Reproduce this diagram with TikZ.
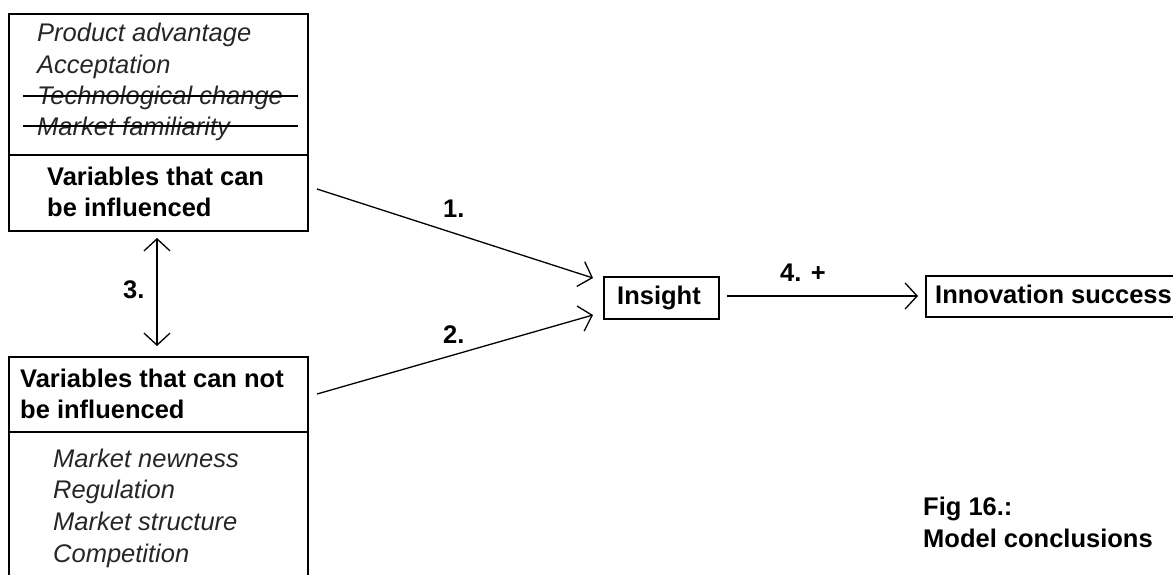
\documentclass[tikz,border=0pt]{standalone}
\usepackage{fontspec}
\setmainfont{Liberation Sans}
\usetikzlibrary{arrows.meta}
\begin{document}
\begin{tikzpicture}[x=1pt,y=-1pt,
  box/.style={draw, line width=1.6pt, inner sep=0pt, anchor=north west},
  lbl/.style={font=\fontsize{25.5}{30}\selectfont\bfseries, inner sep=0pt, anchor=base west},
  itl/.style={font=\fontsize{25.5}{30}\selectfont\itshape, inner sep=0pt, anchor=base west, text=black!85},
  arr/.style={line width=1.3pt, -{Straight Barb[length=12pt,width=26pt,line width=1.3pt]}},
  dbl/.style={line width=1.3pt, {Straight Barb[length=12pt,width=26pt,line width=1.3pt]}-{Straight Barb[length=12pt,width=26pt,line width=1.3pt]}},
  strike/.style={line width=1.3pt},
]
\useasboundingbox (0,0) rectangle (1173,574);
% top box
\node[box, minimum width=299pt, minimum height=217pt] (top) at (8,13) {};
\draw[line width=1.6pt] (8,155) coordinate (tdl) -- (307,155) coordinate (tdr);
\node[itl] (t1) at (37,41) {Product advantage};
\node[itl] (t2) at (37,73) {Acceptation};
\node[itl] (t3) at (37,104) {Technological change};
\node[itl] (t4) at (37,135) {Market familiarity};
\draw[strike] (23,96) coordinate (s1a) -- (298,96) coordinate (s1b);
\draw[strike] (23,126) coordinate (s2a) -- (298,126) coordinate (s2b);
\node[lbl] (tv1) at (47,185) {Variables that can};
\node[lbl] (tv2) at (47,216) {be influenced};
% bottom box
\node[box, minimum width=299pt, minimum height=240pt] (bot) at (8,356) {};
\draw[line width=1.6pt] (8,432) coordinate (bdl) -- (307,432) coordinate (bdr);
\node[lbl] (bv1) at (20,387) {Variables that can not};
\node[lbl] (bv2) at (20,418) {be influenced};
\node[itl] (b1) at (53,467) {Market newness};
\node[itl] (b2) at (53,498) {Regulation};
\node[itl] (b3) at (53,530) {Market structure};
\node[itl] (b4) at (53,562) {Competition};
% insight & success
\node[box, minimum width=115pt, minimum height=42pt] (ins) at (603,276) {};
\node[lbl] (inst) at (617,304) {Insight};
\node[box, minimum width=260pt, minimum height=41pt] (succ) at (925,275) {};
\node[lbl] (succt) at (935,303) {Innovation success};
% arrows
\coordinate (a1s) at (317,189);
\coordinate (a1e) at (593,278);
\coordinate (a2s) at (317,394);
\coordinate (a2e) at (593,315);
\coordinate (a3s) at (157,238);
\coordinate (a3e) at (157,346);
\coordinate (a4s) at (727,296);
\coordinate (a4e) at (918,296);
\draw[arr] (a1s) -- (a1e);
\draw[arr] (a2s) -- (a2e);
\draw[dbl] (a3s) -- (a3e);
\draw[arr] (a4s) -- (a4e);
\node[lbl] (l1) at (443,217) {1.};
\node[lbl] (l2) at (443,343) {2.};
\node[lbl] (l3) at (123,298) {3.};
\node[lbl] (l4) at (780,281) {4. +};
% caption
\node[lbl] (f1) at (923,515) {Fig 16.:};
\node[lbl] (f2) at (923,547) {Model conclusions};
\end{tikzpicture}
\end{document}
